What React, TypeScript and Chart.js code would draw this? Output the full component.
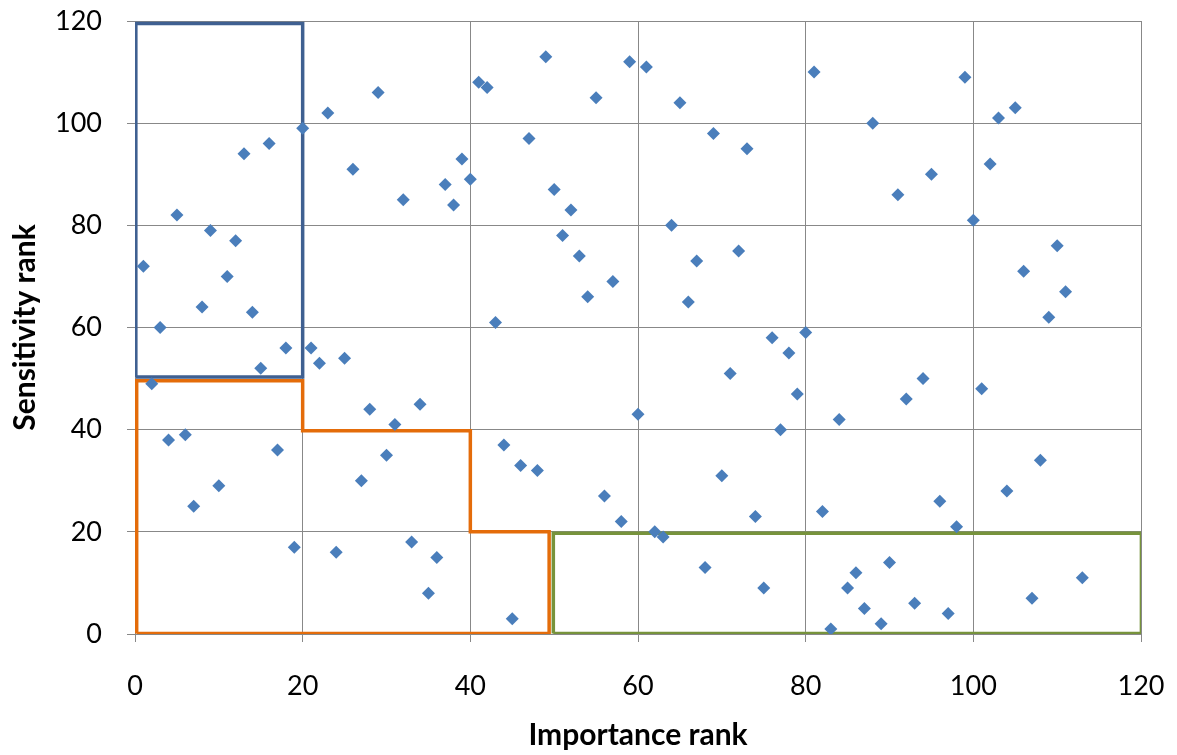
import React, { useEffect, useRef } from "react";
import { Chart, registerables } from "chart.js";

Chart.register(...registerables);

// Importance rank (x) and sensitivity rank (y) for each variable
const importanceRank = [
  1, 2, 3, 4, 5, 6, 7, 8, 9, 10, 11, 12, 13, 14, 15, 16, 17, 18, 19, 20,
  21, 22, 23, 24, 25, 26, 27, 28, 29, 30, 31, 32, 33, 34, 35, 36, 37, 38, 39, 40,
  41, 42, 43, 44, 45, 46, 47, 48, 49, 50, 51, 52, 53, 54, 55, 56, 57, 58, 59, 60,
  61, 62, 63, 64, 65, 66, 67, 68, 69, 70, 71, 72, 73, 74, 75, 76, 77, 78, 79, 80,
  81, 82, 83, 84, 85, 86, 87, 88, 89, 90, 91, 92, 93, 94, 95, 96, 97, 98, 99, 100,
  101, 102, 103, 104, 105, 106, 107, 108, 109, 110, 111, 113,
];
const sensitivityRank = [
  72, 49, 60, 38, 82, 39, 25, 64, 79, 29, 70, 77, 94, 63, 52, 96, 36, 56, 17, 99,
  56, 53, 102, 16, 54, 91, 30, 44, 106, 35, 41, 85, 18, 45, 8, 15, 88, 84, 93, 89,
  108, 107, 61, 37, 3, 33, 97, 32, 113, 87, 78, 83, 74, 66, 105, 27, 69, 22, 112, 43,
  111, 20, 19, 80, 104, 65, 73, 13, 98, 31, 51, 75, 95, 23, 9, 58, 40, 55, 47, 59,
  110, 24, 1, 42, 9, 12, 5, 100, 2, 14, 86, 46, 6, 50, 90, 26, 4, 21, 109, 81,
  48, 92, 101, 28, 103, 71, 7, 34, 62, 76, 67, 11,
];

// Region outlines (vertices in rank units)
const blueBoxX = [0.1, 0.1, 20, 20, 0.1];
const blueBoxY = [50.3, 119.5, 119.5, 50.3, 50.3];
const orangeBoxX = [0.2, 0.2, 20, 20, 40, 40, 49.4, 49.4, 0.2];
const orangeBoxY = [0.1, 49.6, 49.6, 39.8, 39.8, 20, 20, 0.1, 0.1];
const greenBoxX = [49.9, 49.9, 120.05, 120.05, 49.9];
const greenBoxY = [0.1, 19.7, 19.7, 0.1, 0.1];

const axisMin = 0;
const axisMax = 120;
const tickStep = 20;
const xTitle = "Importance rank";
const yTitle = "Sensitivity rank";

const zip = (xs: number[], ys: number[]) => xs.map((x, i) => ({ x, y: ys[i] }));

export default function App() {
  const ref = useRef<HTMLCanvasElement | null>(null);

  useEffect(() => {
    if (!ref.current) return;
    const outline = (xs: number[], ys: number[], color: string) => ({
      type: "line" as const,
      data: zip(xs, ys),
      borderColor: color,
      backgroundColor: color,
      borderWidth: 3.5,
      pointRadius: 0,
      showLine: true,
      fill: false,
      tension: 0,
      borderJoinStyle: "miter" as const,
    });
    const chart = new Chart(ref.current, {
      type: "scatter",
      data: {
        datasets: [
          {
            data: zip(importanceRank, sensitivityRank),
            pointStyle: "rectRot",
            pointRadius: 6.5,
            backgroundColor: "#4A7EBB",
            borderColor: "#4A7EBB",
            borderWidth: 0,
          },
          outline(blueBoxX, blueBoxY, "#3F6091"),
          outline(orangeBoxX, orangeBoxY, "#E46C0A"),
          outline(greenBoxX, greenBoxY, "#77933C"),
        ] as any,
      },
      options: {
        responsive: false,
        animation: false,
        layout: { padding: 0 },
        plugins: { legend: { display: false }, tooltip: { enabled: false } },
        scales: {
          x: {
            type: "linear",
            min: axisMin,
            max: axisMax,
            afterFit: (s: any) => {
              s.height = 121;
              s.paddingLeft = 0;
              s.paddingRight = 36;
            },
            ticks: {
              stepSize: tickStep,
              padding: 28,
              color: "#000",
              font: { family: "Lato", size: 27 },
            },
            grid: { color: "#888888", lineWidth: 1, tickLength: 8, drawTicks: true },
            border: { color: "#888888", width: 1 },
            title: {
              display: true,
              text: xTitle,
              color: "#000",
              font: { family: "Lato", size: 30, weight: "bold" },
              padding: { top: 0, bottom: 2 },
            },
          },
          y: {
            type: "linear",
            min: axisMin,
            max: axisMax,
            afterFit: (s: any) => {
              s.width = 135;
              s.paddingTop = 21;
              s.paddingBottom = 0;
            },
            ticks: {
              stepSize: tickStep,
              padding: 25,
              color: "#000",
              font: { family: "Lato", size: 27 },
            },
            grid: { color: "#888888", lineWidth: 1, tickLength: 8, drawTicks: true },
            border: { color: "#888888", width: 1 },
            title: {
              display: true,
              text: yTitle,
              color: "#000",
              font: { family: "Lato", size: 30, weight: "bold" },
              padding: { top: 7, bottom: 0 },
            },
          },
        },
      } as any,
    });
    return () => chart.destroy();
  }, []);

  return (
    <div style={{ position: "fixed", left: 0, top: 0, width: 1177, height: 755, background: "#fff" }}>
      <canvas ref={ref} width={1177} height={755} style={{ display: "block" }} />
    </div>
  );
}
